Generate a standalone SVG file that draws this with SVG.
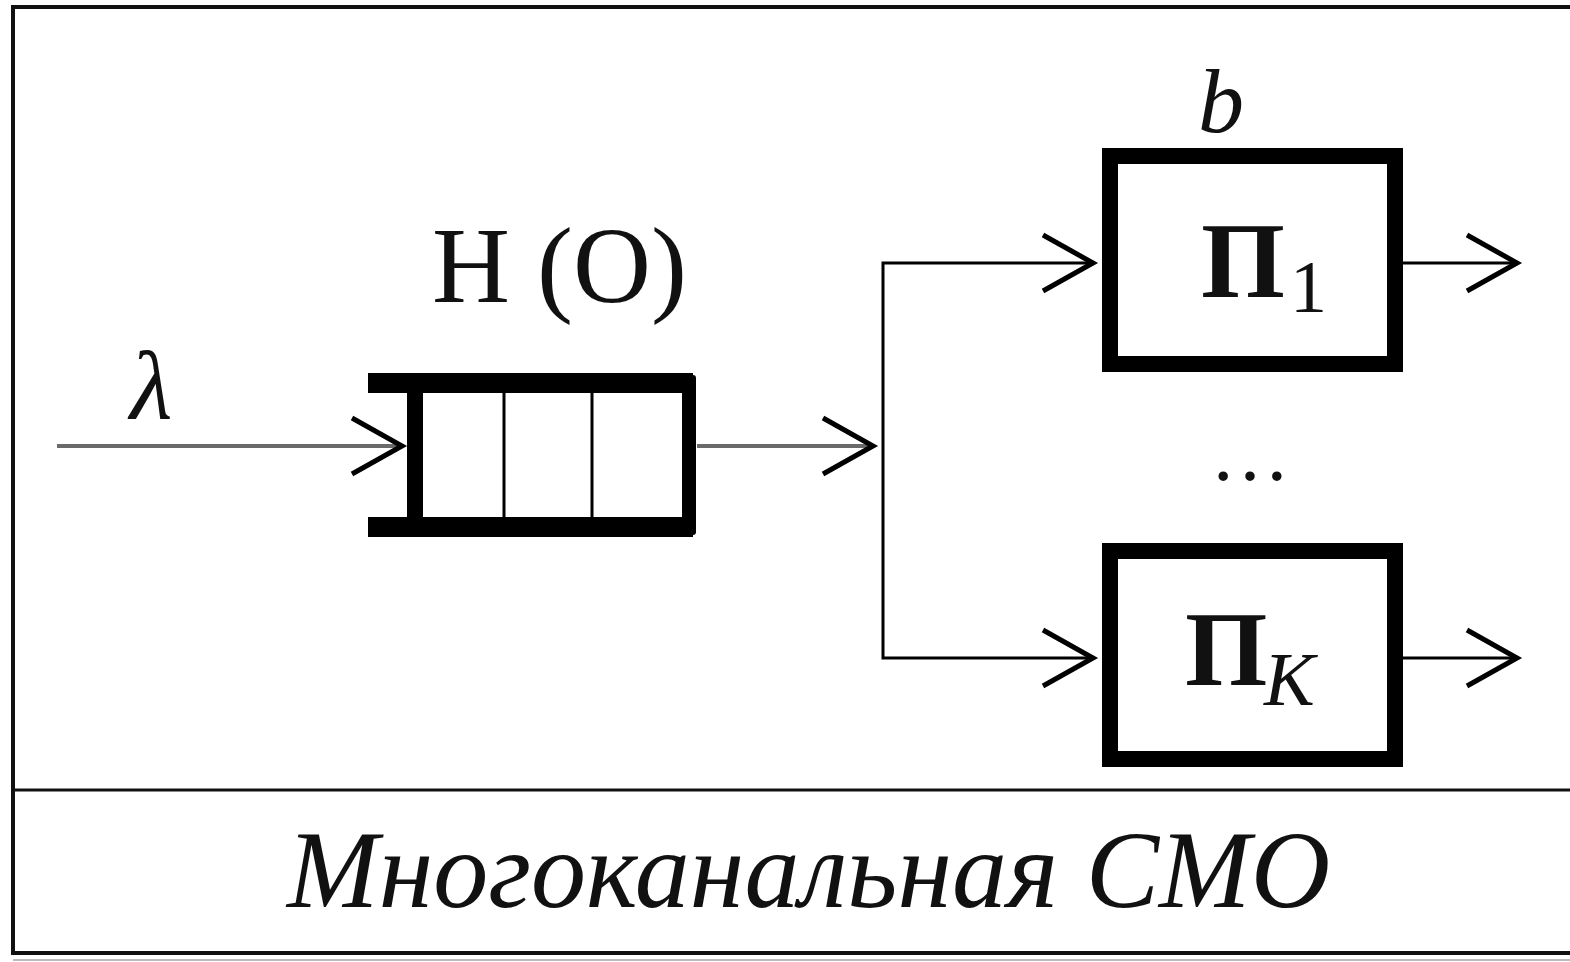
<svg xmlns="http://www.w3.org/2000/svg" width="1570" height="962" viewBox="0 0 1570 962">
<defs>
<style>
.frame{fill:none;stroke:#111;stroke-width:4}
.sep{stroke:#111;stroke-width:3}
.bar{fill:#000}
.cell{stroke:#000;stroke-width:3}
.box{fill:#fff;stroke:#000;stroke-width:16}
.gray{fill:none;stroke:#6a6a6a;stroke-width:4}
.wire{fill:none;stroke:#000;stroke-width:3}
.t{font-family:"Liberation Serif","Times New Roman",serif;fill:#111}
.it{font-style:italic}
.bd{font-weight:bold}
</style>
<marker id="arr" viewBox="-56 -34 62 68" markerWidth="62" markerHeight="68" refX="0" refY="0" orient="auto" markerUnits="userSpaceOnUse">
<path d="M-50,-28 L0,0 L-50,28" fill="none" stroke="#000" stroke-width="5"/>
</marker>
</defs>
<rect width="1570" height="962" fill="#fff"/>
<g id="frame">
<rect class="frame" x="13" y="7" width="1600" height="946"/>
<line class="sep" x1="13" y1="790" x2="1570" y2="790"/>
<line x1="13" y1="960" x2="1570" y2="960" stroke="#bbb" stroke-width="2"/>
</g>
<g id="connectors">
<path class="gray" d="M57,446 H402" marker-end="url(#arr)"/>
<path class="gray" d="M697,446 H873" marker-end="url(#arr)"/>
<path class="wire" d="M883,446 V263 H1093" marker-end="url(#arr)"/>
<path class="wire" d="M883,446 V658 H1093" marker-end="url(#arr)"/>
<path class="wire" d="M1403,263 H1517" marker-end="url(#arr)"/>
<path class="wire" d="M1403,658 H1517" marker-end="url(#arr)"/>
</g>
<g id="queue">
<rect class="bar" x="368" y="373" width="325" height="20"/>
<rect class="bar" x="368" y="517" width="325" height="20"/>
<rect class="bar" x="407" y="373" width="16" height="164"/>
<rect class="bar" x="682" y="375" width="14" height="160" rx="3"/>
<line class="cell" x1="504" y1="393" x2="504" y2="517"/>
<line class="cell" x1="592" y1="393" x2="592" y2="517"/>
<text class="t" x="432" y="302" font-size="108">Н (О)</text>
</g>
<g id="lambda">
<text class="t it" x="130" y="418" font-size="98">λ</text>
</g>
<g id="channel1">
<rect class="box" x="1110" y="156" width="285" height="208"/>
<text class="t bd" x="1201" y="297" font-size="108">П</text>
<text class="t" x="1290" y="312" font-size="74">1</text>
<text class="t it" x="1198" y="132" font-size="92">b</text>
</g>
<g id="dots">
<text class="t" x="1210" y="480" font-size="80">…</text>
</g>
<g id="channelK">
<rect class="box" x="1110" y="551" width="285" height="208"/>
<text class="t bd" x="1185" y="685" font-size="106">П</text>
<text class="t it" x="1264" y="705" font-size="76">K</text>
</g>
<g id="caption">
<text class="t it" x="287" y="907" font-size="110">Многоканальная СМО</text>
</g>
</svg>
